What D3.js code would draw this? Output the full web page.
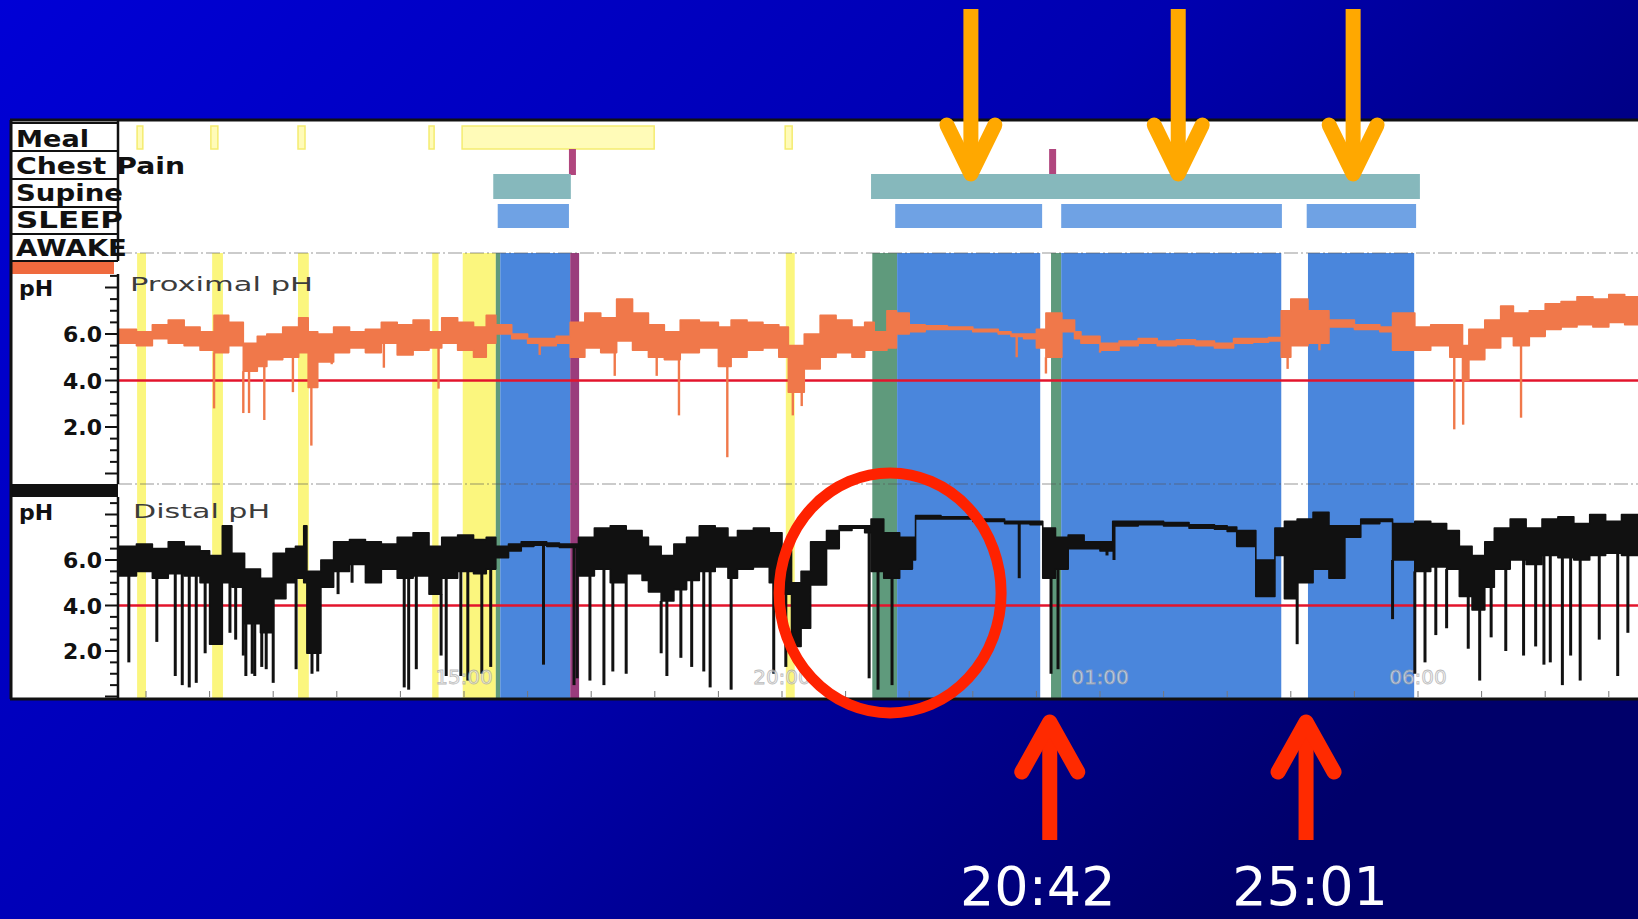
<!DOCTYPE html>
<html><head><meta charset="utf-8">
<script src="https://cdn.jsdelivr.net/npm/d3@7"></script>
<style>html,body{margin:0;padding:0;background:#0000a0;overflow:hidden}</style>
</head><body>
<svg id="c" width="1638" height="919"></svg>
<script>
// ---------- DATA (time in decimal hours; >24 = next day) ----------
const rowLabels = ["Meal", "Chest Pain", "Supine", "SLEEP", "AWAKE"];
const mealEvents = [[9.86,9.95],[11.02,11.13],[12.39,12.50],[14.45,14.53],[14.97,17.99],[20.05,20.16]];
const chestPainEvents = [[16.65,16.76],[24.20,24.31]];
const supineEvents = [[15.46,16.68],[21.40,30.03]];
const sleepEvents = [[15.53,16.65],[21.78,24.09],[24.39,27.86],[28.25,29.97]];

const mealShading = [[9.86,10.0],[11.04,11.21],[12.39,12.56],[14.5,14.6],[14.98,15.5],[20.06,20.2]];
const supineShading = [[15.50,15.57],[21.42,21.81],[24.23,24.39]];
const sleepShading = [[15.57,16.67],[21.81,24.06],[24.39,27.85],[28.27,29.94]];
const painShading = [[16.67,16.81]];

const timeTicks = [15, 20, 25, 30];
const timeLabels = ["15:00", "20:00", "01:00", "06:00"];
const phTicks = [2, 4, 6];
const phTickLabels = ["2.0", "4.0", "6.0"];
const refluxThreshold = 4.0;

// proximal pH trace: [time, low, high] envelope of the fast-varying signal
const proxBand = [[9.56,5.6,6.2],[9.85,5.5,6.1],[10.1,5.8,6.4],[10.35,5.6,6.6],[10.6,5.5,6.3],[10.85,5.3,6.1],[11.07,5.2,6.8],[11.3,5.5,6.5],[11.53,4.4,5.6],[11.75,4.6,5.9],[11.9,4.9,6.0],[12.15,5.0,6.3],[12.4,5.2,6.7],[12.55,3.7,6.1],[12.7,4.8,6.0],[12.95,5.2,6.3],[13.2,5.4,6.1],[13.45,5.2,6.2],[13.7,5.6,6.5],[13.95,5.1,6.4],[14.2,5.3,6.6],[14.45,5.4,6.1],[14.65,5.6,6.7],[14.9,5.3,6.5],[15.15,5.0,6.3],[15.35,5.6,6.8],[15.5,6.0,6.4],[15.75,5.8,6.0],[16.0,5.6,5.8],[16.2,5.5,5.8],[16.45,5.6,5.9],[16.67,5.0,6.5],[16.9,5.4,6.9],[17.15,5.2,6.7],[17.4,5.7,7.5],[17.65,5.3,6.9],[17.9,5.0,6.4],[18.15,4.9,6.1],[18.4,5.2,6.6],[18.7,5.4,6.5],[19.0,4.6,6.3],[19.2,5.0,6.6],[19.45,5.3,6.5],[19.7,5.4,6.4],[19.95,5.0,6.3],[20.1,3.5,5.5],[20.35,4.5,6.0],[20.6,5.0,6.8],[20.85,5.2,6.6],[21.1,5.0,6.3],[21.3,5.3,6.5],[21.45,5.3,6.1],[21.65,5.4,7.0],[21.8,6.0,6.9],[22.0,6.1,6.4],[22.25,6.2,6.35],[22.6,6.2,6.3],[23.0,6.1,6.2],[23.4,6.0,6.1],[23.6,5.9,6.0],[23.8,5.8,6.0],[24.0,5.4,6.2],[24.15,5.0,6.9],[24.4,6.1,6.6],[24.6,5.8,6.1],[24.7,5.6,5.9],[25.0,5.3,5.6],[25.3,5.5,5.7],[25.6,5.6,5.8],[25.9,5.5,5.7],[26.2,5.55,5.75],[26.5,5.5,5.7],[26.8,5.4,5.6],[27.1,5.6,5.8],[27.4,5.65,5.8],[27.65,5.7,5.85],[27.85,5.0,7.0],[28.0,5.5,7.5],[28.27,5.6,7.0],[28.6,6.3,6.6],[29.0,6.2,6.4],[29.4,6.1,6.3],[29.6,5.3,6.9],[29.95,5.3,6.3],[30.2,5.5,6.4],[30.5,5.0,6.4],[30.7,4.0,5.5],[30.8,4.9,6.2],[31.05,5.4,6.6],[31.3,5.9,7.2],[31.5,5.5,6.9],[31.75,5.9,7.0],[32.0,6.2,7.3],[32.25,6.3,7.4],[32.5,6.4,7.6],[32.75,6.3,7.5],[33.0,6.5,7.7],[33.25,6.4,7.6],[33.5,6.3,7.4]];
// proximal acid drops: [time, minimum pH]
const proxDips = [[11.07,2.8],[11.53,2.6],[11.62,2.6],[11.86,2.3],[12.31,3.5],[12.6,1.2],[12.92,4.7],[13.74,4.55],[14.6,3.65],[16.19,5.1],[17.37,4.2],[18.03,4.2],[18.38,2.5],[19.14,0.7],[20.17,2.5],[20.31,2.9],[23.69,5.0],[24.15,4.3],[25.0,5.2],[27.95,4.5],[28.45,5.3],[30.57,1.9],[30.71,2.1],[31.62,2.4]];

// distal pH trace
const distBand = [[9.56,5.3,6.6],[9.85,5.5,6.7],[10.1,5.2,6.5],[10.35,5.4,6.8],[10.6,5.3,6.6],[10.85,5.0,6.4],[11.0,2.3,6.2],[11.2,5.0,7.5],[11.35,4.8,6.3],[11.55,3.2,5.6],[11.8,2.8,5.2],[12.0,4.3,6.3],[12.2,5.0,6.5],[12.35,5.2,6.6],[12.48,5.0,7.5],[12.53,1.9,5.5],[12.75,4.8,6.0],[12.95,5.5,6.8],[13.2,5.8,6.9],[13.45,5.0,6.8],[13.7,5.6,6.7],[13.95,5.2,7.0],[14.2,5.3,7.2],[14.45,4.5,6.6],[14.65,5.2,7.0],[14.9,5.5,7.1],[15.15,5.4,6.9],[15.35,5.6,7.0],[15.5,6.1,6.6],[15.7,6.4,6.7],[15.9,6.6,6.8],[16.1,6.65,6.8],[16.3,6.6,6.75],[16.5,6.55,6.7],[16.8,5.3,7.0],[17.05,5.6,7.4],[17.3,5.0,7.5],[17.55,5.4,7.3],[17.8,5.1,7.0],[17.9,4.6,6.6],[18.1,4.2,6.2],[18.3,4.7,6.7],[18.5,5.1,7.0],[18.7,5.5,7.5],[18.95,5.7,7.4],[19.15,5.2,7.0],[19.3,5.6,7.3],[19.55,5.7,7.4],[19.8,5.0,7.2],[20.0,4.5,6.4],[20.15,2.2,5.0],[20.3,3.0,5.5],[20.45,4.9,6.8],[20.7,6.5,7.3],[20.9,7.3,7.5],[21.1,7.4,7.5],[21.3,7.2,7.5],[21.4,5.5,7.8],[21.6,5.2,7.2],[21.85,5.6,7.0],[22.05,6.0,7.0],[22.1,7.8,7.95],[22.5,7.8,7.9],[23.0,7.7,7.8],[23.5,7.6,7.7],[23.9,7.55,7.7],[24.1,5.2,7.4],[24.3,5.6,7.0],[24.5,6.5,7.1],[24.75,6.5,6.8],[25.0,6.4,6.8],[25.2,7.5,7.7],[25.6,7.55,7.7],[26.0,7.5,7.65],[26.4,7.4,7.55],[26.8,7.35,7.5],[27.0,7.25,7.45],[27.15,6.6,7.3],[27.45,4.4,6.0],[27.75,6.2,7.4],[27.9,4.3,7.7],[28.1,5.0,7.8],[28.35,5.6,8.1],[28.6,5.2,7.5],[28.85,7.0,7.5],[29.1,7.6,7.8],[29.4,7.7,7.8],[29.6,6.0,7.6],[29.95,5.5,7.7],[30.2,5.7,7.6],[30.45,5.6,7.3],[30.65,4.4,6.6],[30.85,3.8,6.2],[31.05,4.8,6.8],[31.2,5.6,7.4],[31.45,6.0,7.8],[31.7,5.8,7.4],[31.95,6.2,7.8],[32.2,6.1,7.9],[32.45,6.0,7.6],[32.7,6.2,8.0],[32.95,6.3,7.7],[33.2,6.2,8.0],[33.5,6.0,7.8]];
const distDips = [[9.73,1.5],[10.17,2.4],[10.46,0.9],[10.57,0.5],[10.68,0.4],[10.79,0.6],[10.93,1.9],[11.32,2.8],[11.41,2.5],[11.53,1.8],[11.57,0.9],[11.67,1.0],[11.71,0.9],[11.82,1.3],[11.89,1.2],[12.0,0.6],[12.36,1.2],[12.61,1.0],[12.7,1.1],[13.02,4.5],[13.24,5.0],[14.06,0.4],[14.13,0.3],[14.25,1.2],[14.64,1.8],[14.72,0.9],[14.95,0.9],[15.06,0.7],[15.28,1.0],[15.42,1.3],[16.25,1.4],[16.73,0.5],[16.78,0.8],[16.98,0.7],[17.2,0.5],[17.34,1.1],[17.55,1.0],[18.1,1.9],[18.19,0.9],[18.41,1.7],[18.58,1.3],[18.77,1.1],[18.87,0.4],[19.2,0.3],[19.87,1.0],[20.06,1.3],[21.37,0.8],[21.51,0.3],[21.73,0.5],[23.73,5.2],[24.23,1.0],[24.34,1.2],[25.11,6.2],[25.22,6.0],[28.1,2.3],[29.6,3.4],[29.95,1.0],[30.11,1.5],[30.28,2.7],[30.45,3.0],[30.79,2.1],[30.97,0.7],[31.15,2.6],[31.38,2.0],[31.66,1.8],[31.85,2.2],[31.98,1.4],[32.08,1.5],[32.27,0.5],[32.4,1.8],[32.55,0.7],[32.85,2.5],[33.14,0.9],[33.3,2.8]];

// annotations
const orangeArrowTimes = [22.97, 26.23, 28.98];
const redArrowTimes = [24.21, 28.24];
const redArrowLabels = ["20:42", "25:01"];
const refluxCircle = {time: 21.7, pH: 4.55};

// ---------- DRAW ----------
const svg = d3.select("#c");
const defs = svg.append("defs");
const g0 = defs.append("linearGradient").attr("id","bg").attr("x1",0).attr("y1",0).attr("x2",1).attr("y2",0.55);
g0.append("stop").attr("offset","0%").attr("stop-color","#0000d6");
g0.append("stop").attr("offset","55%").attr("stop-color","#0000b0");
g0.append("stop").attr("offset","100%").attr("stop-color","#00006a");
svg.append("rect").attr("width",1638).attr("height",919).attr("fill","url(#bg)");

const P = {left:10, lab:118, right:1638, top:120, bottom:699};
defs.append("clipPath").attr("id","plot").append("rect")
  .attr("x",P.lab).attr("y",P.top).attr("width",P.right-P.lab).attr("height",P.bottom-P.top);

const x = d3.scaleLinear().domain([15, 30]).range([464, 1418]);
const yProx = d3.scaleLinear().domain([0, 8]).range([473.5, 287.5]);
const yDist = d3.scaleLinear().domain([0, 8]).range([696.5, 514.5]);

// white chart panel
svg.append("rect").attr("x",P.left).attr("y",P.top).attr("width",P.right-P.left).attr("height",P.bottom-P.top).attr("fill","#ffffff");

const plot = svg.append("g").attr("clip-path","url(#plot)");
const bandTop = 253, bandBot = 698;
function shade(data, color, op){
  plot.append("g").selectAll("rect").data(data).join("rect")
    .attr("x", d=>x(d[0])).attr("width", d=>x(d[1])-x(d[0]))
    .attr("y", bandTop).attr("height", bandBot-bandTop)
    .attr("fill", color).attr("opacity", op||1);
}
shade(mealShading, "#fbf67e");
shade(supineShading, "#5f9a7c");
shade(sleepShading, "#4a86dc");
shade(painShading, "#9a3c7c");

// event rows
const rowY = {meal:[126,149], pain:[149,175], supine:[174,199], sleep:[204,228]};
function events(data, key, fill, stroke){
  plot.append("g").selectAll("rect").data(data).join("rect")
    .attr("x", d=>x(d[0])).attr("width", d=>Math.max(3, x(d[1])-x(d[0])))
    .attr("y", rowY[key][0]).attr("height", rowY[key][1]-rowY[key][0])
    .attr("fill", fill).attr("stroke", stroke||"none").attr("stroke-width", 1.5);
}
events(mealEvents, "meal", "#fffbb8", "#f5ec70");
events(chestPainEvents, "pain", "#b0467e");
events(supineEvents, "supine", "#86b8bc");
events(sleepEvents, "sleep", "#6fa2e4");

// faint dashed separators
[253, 484].forEach(yy => plot.append("line").attr("x1",P.lab).attr("x2",P.right).attr("y1",yy).attr("y2",yy)
  .attr("stroke","#555").attr("stroke-width",1.2).attr("stroke-dasharray","14 3 2 3").attr("opacity",0.6));

// threshold lines
plot.append("line").attr("x1",P.lab).attr("x2",P.right).attr("y1",yProx(refluxThreshold)).attr("y2",yProx(refluxThreshold))
  .attr("stroke","#e3142c").attr("stroke-width",2.4);
plot.append("line").attr("x1",P.lab).attr("x2",P.right).attr("y1",yDist(refluxThreshold)).attr("y2",yDist(refluxThreshold))
  .attr("stroke","#e3142c").attr("stroke-width",2.4);

function bandAt(band, t){ let v = band[0]; for (const k of band){ if (k[0] <= t) v = k; else break; } return v; }
function trace(band, dips, y, color, dipW){
  const area = d3.area().x(d=>x(d[0])).y0(d=>y(d[1])).y1(d=>y(d[2])).curve(d3.curveStepAfter);
  plot.append("path").datum(band).attr("d", area).attr("fill", color).attr("stroke", color).attr("stroke-width",1.6).attr("stroke-linejoin","round");
  plot.append("g").selectAll("line").data(dips).join("line")
    .attr("x1", d=>x(d[0])).attr("x2", d=>x(d[0]))
    .attr("y1", d=>y(bandAt(band,d[0])[1])).attr("y2", d=>y(d[1]))
    .attr("stroke", color).attr("stroke-width", dipW);
}
trace(proxBand, proxDips, yProx, "#f0784a", 2.4);
trace(distBand, distDips, yDist, "#111111", 3);

// time labels and hourly ticks
plot.append("g").selectAll("line").data(d3.range(10, 34)).join("line")
  .attr("x1", d=>x(d)).attr("x2", d=>x(d)).attr("y1", 691).attr("y2", 697)
  .attr("stroke","#777").attr("stroke-width",1);
plot.append("g").selectAll("text").data(timeTicks).join("text")
  .attr("x", d=>x(d)).attr("y", 684).attr("text-anchor","middle")
  .attr("font-family","DejaVu Sans").attr("font-size",20)
  .attr("fill","#eeeeee").attr("stroke","#a6a6a6").attr("stroke-width",0.8).attr("opacity",0.75)
  .text((d,i)=>timeLabels[i]);

// panel titles
plot.append("text").attr("x",130).attr("y",291).attr("font-family","DejaVu Sans").attr("font-size",20)
  .attr("fill","#3c3c3c").attr("textLength",183).attr("lengthAdjust","spacingAndGlyphs").text("Proximal pH");
plot.append("text").attr("x",133).attr("y",518).attr("font-family","DejaVu Sans").attr("font-size",20)
  .attr("fill","#3c3c3c").attr("textLength",137).attr("lengthAdjust","spacingAndGlyphs").text("Distal pH");

// ---------- label column ----------
const lab = svg.append("g");
lab.append("rect").attr("x",P.left).attr("y",P.top).attr("width",P.lab-P.left).attr("height",P.bottom-P.top).attr("fill","#fff");
const rowLines = [123,151,179,207,234,261];
const labelBase = [147,174,201,228,256];
const labelLen = [73,169,107,107,111];
lab.selectAll("text.row").data(rowLabels).join("text").attr("class","row")
  .attr("x",16).attr("y",(d,i)=>labelBase[i])
  .attr("font-family","DejaVu Sans").attr("font-weight","bold").attr("font-size",23)
  .attr("textLength",(d,i)=>labelLen[i]).attr("lengthAdjust","spacingAndGlyphs")
  .attr("fill","#111").text(d=>d);
lab.selectAll("line.rl").data(rowLines).join("line").attr("class","rl")
  .attr("x1",P.left).attr("x2",P.lab).attr("y1",d=>d).attr("y2",d=>d)
  .attr("stroke","#111").attr("stroke-width",2);
lab.append("line").attr("x1",P.lab).attr("x2",P.lab).attr("y1",P.top).attr("y2",261).attr("stroke","#111").attr("stroke-width",2.5);
// orange and black separator bars
lab.append("rect").attr("x",P.left).attr("y",262).attr("width",P.lab-P.left-4).attr("height",12).attr("fill","#ef6a3e");
lab.append("rect").attr("x",P.left).attr("y",484).attr("width",P.lab-P.left).attr("height",13).attr("fill","#111");

// pH axes
function phAxis(y, top, bottom, labY){
  const ax = lab.append("g");
  ax.append("line").attr("x1",P.lab).attr("x2",P.lab).attr("y1",top).attr("y2",bottom).attr("stroke","#111").attr("stroke-width",2.5);
  const tv = d3.range(0, 8.51, 0.5).filter(v => y(v) >= top && y(v) <= bottom);
  ax.selectAll("line.t").data(tv).join("line").attr("class","t")
    .attr("x1", d => P.lab - (d % 2 === 0 ? 13 : 8)).attr("x2",P.lab).attr("y1",d=>y(d)).attr("y2",d=>y(d))
    .attr("stroke","#111").attr("stroke-width",2);
  ax.selectAll("text").data(phTicks).join("text")
    .attr("x",102).attr("y",d=>y(d)+8).attr("text-anchor","end")
    .attr("font-family","DejaVu Sans").attr("font-weight","bold").attr("font-size",22).attr("fill","#111")
    .text((d,i)=>phTickLabels[i]);
  ax.append("text").attr("x",19).attr("y",labY).attr("font-family","DejaVu Sans").attr("font-weight","bold")
    .attr("font-size",22).attr("fill","#111").text("pH");
}
phAxis(yProx, 274, 484, 296);
phAxis(yDist, 497, 698, 520);

// frame
svg.append("line").attr("x1",P.left).attr("x2",P.right).attr("y1",P.top).attr("y2",P.top).attr("stroke","#111").attr("stroke-width",3);
svg.append("line").attr("x1",P.left).attr("x2",P.right).attr("y1",P.bottom).attr("y2",P.bottom).attr("stroke","#111").attr("stroke-width",3);
svg.append("line").attr("x1",P.left+1).attr("x2",P.left+1).attr("y1",P.top).attr("y2",P.bottom).attr("stroke","#111").attr("stroke-width",3);

// ---------- annotations ----------
const ann = svg.append("g");
ann.append("ellipse").attr("cx", x(refluxCircle.time)).attr("cy", yDist(refluxCircle.pH))
  .attr("rx",111).attr("ry",120).attr("fill","none").attr("stroke","#ff2200").attr("stroke-width",11);
orangeArrowTimes.forEach(t => {
  const cx = x(t);
  ann.append("line").attr("x1",cx).attr("x2",cx).attr("y1",9).attr("y2",174).attr("stroke","#ffa800").attr("stroke-width",15);
  ann.append("polyline").attr("points",`${cx-24},${125} ${cx},${174} ${cx+24},${125}`)
    .attr("fill","none").attr("stroke","#ffa800").attr("stroke-width",15).attr("stroke-linecap","round").attr("stroke-linejoin","round");
});
const labelShift = [-12, 4];
redArrowTimes.forEach((t,i) => {
  const cx = x(t);
  ann.append("line").attr("x1",cx).attr("x2",cx).attr("y1",722).attr("y2",840).attr("stroke","#ff2a00").attr("stroke-width",15);
  ann.append("polyline").attr("points",`${cx-28},${772} ${cx},${722} ${cx+28},${772}`)
    .attr("fill","none").attr("stroke","#ff2a00").attr("stroke-width",15).attr("stroke-linecap","round").attr("stroke-linejoin","round");
  ann.append("text").attr("x",cx + labelShift[i]).attr("y",905).attr("text-anchor","middle")
    .attr("font-family","DejaVu Sans").attr("font-size",54).attr("fill","#ffffff").text(redArrowLabels[i]);
});
</script>
</body></html>
